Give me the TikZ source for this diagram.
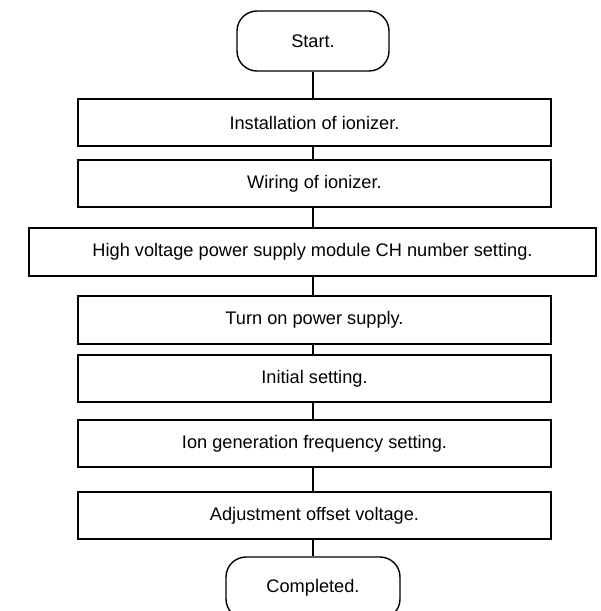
\documentclass[tikz,border=0pt]{standalone}
\usepackage{fontspec}
\setmainfont{Liberation Sans}
\begin{document}
\begin{tikzpicture}[x=1pt,y=-1pt,
  every node/.style={font=\fontsize{18.2}{22}\selectfont},
  stepbox/.style={draw=black,line width=1.4pt,inner sep=0pt,minimum height=47pt},
  narrowbox/.style={stepbox,minimum width=473pt},
  widebox/.style={stepbox,minimum width=567pt},
  termbox/.style={draw=black,line width=1.4pt,inner sep=0pt,minimum height=60pt,rounded corners=20pt},
  conn/.style={draw=black,line width=1.4pt}]
\useasboundingbox (0,0) rectangle (601,611);
\clip (0,0) rectangle (601,611);
\node[termbox,minimum width=152pt] (start) at (313,41) {Start.};
\node[narrowbox] (b1) at (314.5,122.5) {Installation of ionizer.};
\node[narrowbox] (b2) at (314.5,183.5) {Wiring of ionizer.};
\node[widebox,minimum height=48pt] (b3) at (312.5,252) {High voltage power supply module CH number setting.};
\node[narrowbox,minimum height=48pt] (b4) at (314.5,320) {Turn on power supply.};
\node[narrowbox] (b5) at (314.5,378.5) {Initial setting.};
\node[narrowbox] (b6) at (314.5,443.5) {Ion generation frequency setting.};
\node[narrowbox] (b7) at (314.5,515.5) {Adjustment offset voltage.};
\node[termbox,minimum width=174pt,minimum height=62pt] (end) at (313,588) {Completed.};
\coordinate (cx) at (313,0);
\foreach \a/\b in {start/b1,b1/b2,b2/b3,b3/b4,b4/b5,b5/b6,b6/b7,b7/end}{
  \draw[conn] (cx |- \a.south) -- (cx |- \b.north);
}
\end{tikzpicture}
\end{document}
